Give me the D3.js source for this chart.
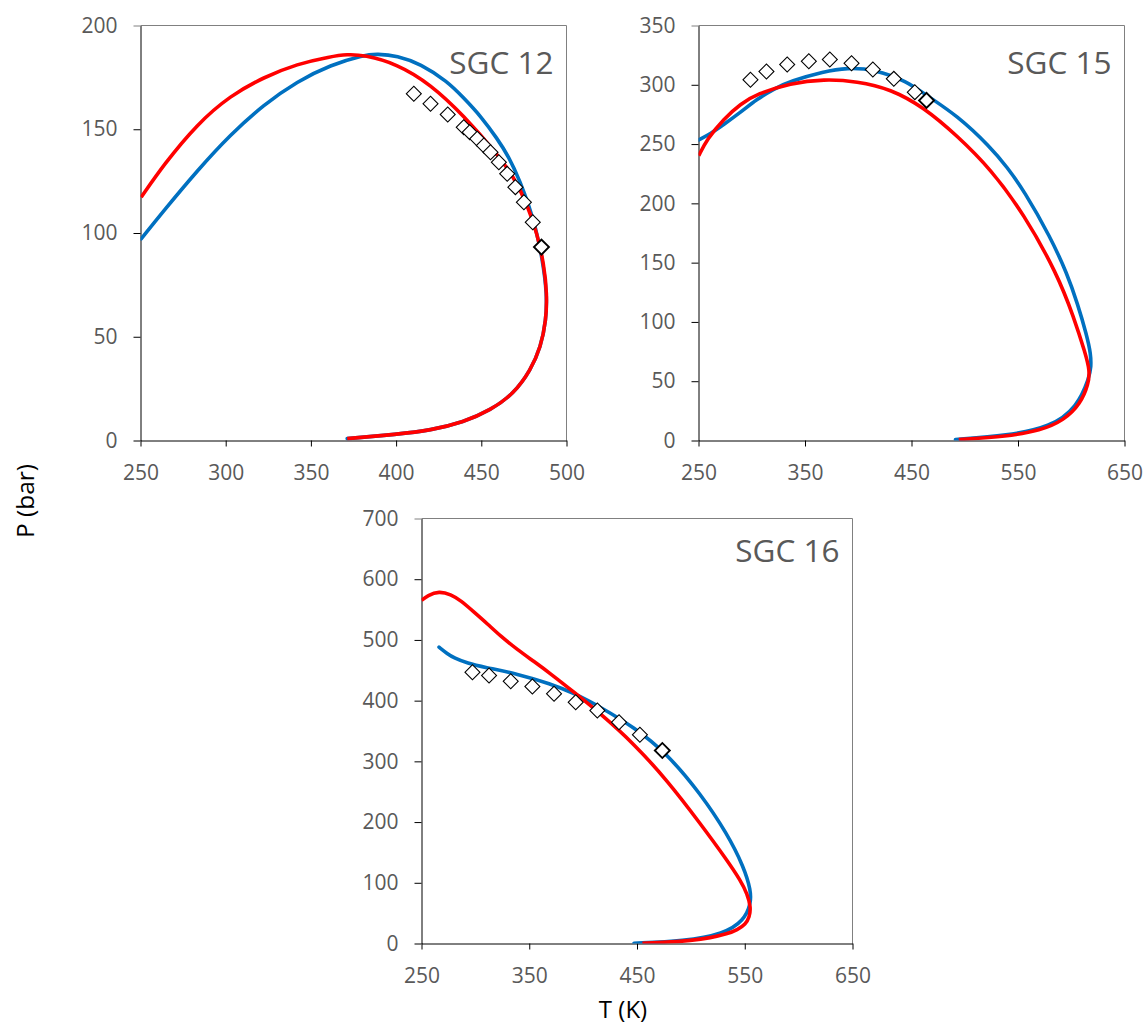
<!DOCTYPE html>
<html>
<head>
<meta charset="utf-8">
<script src="https://cdn.jsdelivr.net/npm/d3@7"></script>
<style>
  body { margin: 0; background: #fff; }
  svg { display: block; font-family: "Open Sans", sans-serif; }
</style>
</head>
<body>
<svg id="chart" width="1145" height="1026"></svg>
<script>
// Phase envelopes, [T (K), P (bar)]

// SGC 12
const sgc12Red = [[250.4,117.2],[263.7,133],[283.3,152.6],[302.8,166.3],[322.4,175.1],[342,181.5],[361.5,185],[371.3,186.1],[381.1,185.8],[400.6,181.5],[420.2,171.7],[439.7,156.6],[459.3,138.1],[469.1,126.9],[476.9,114],[482.8,99.6],[486.7,85.1],[488.6,70.7],[488,57.8],[484.9,45],[478.9,33.8],[469.1,22.6],[455.4,14.6],[439.7,8.9],[420.2,4.9],[400.6,3],[371.3,0.9]];
const sgc12Blue = [[250.4,97.2],[263.7,110.8],[283.3,130.1],[302.8,147.5],[322.4,161.9],[342,173.1],[361.5,181],[381.1,185.8],[388.9,186.3],[400.6,185.5],[414.3,181.5],[430,173.1],[439.7,165.1],[450,156],[459.3,145.5],[466,137],[473,124.5],[478,113],[481.8,102.8],[485.7,88.3],[488.6,70.7],[488,57.8],[484.9,45],[478.9,33.8],[469.1,22.6],[455.4,14.6],[439.7,8.9],[420.2,4.9],[400.6,3],[371.3,0.9]];
const sgc12Exp = [[410.4,167.1],[420.2,162.3],[430.3,157.1],[439.7,151],[443.2,148.6],[447.6,145.4],[451.5,142.2],[455.4,138.9],[460.3,134.1],[465.2,128.5],[470,122.1],[475,114.8],[480.2,105.2],[485.3,93.2]];

// SGC 15
const sgc15Red = [[250.3,240.3],[258.2,254.4],[273.8,271.3],[289.4,283.9],[305.1,292.4],[336.4,301.4],[367.7,304.8],[399,303],[430.3,296.5],[461.6,281],[492.9,257],[524.2,229.1],[555.5,191.1],[586.8,140.5],[602.4,104],[613.4,73],[617.4,58.9],[616.2,47.7],[608.7,30.9],[593,16.9],[571.1,8.4],[539.8,3.4],[494.4,0.8]];
const sgc15Blue = [[250.3,253.6],[261.3,258.7],[273.8,266.5],[289.4,276.7],[305.1,288],[320.7,296.5],[336.4,303.1],[367.7,311.2],[389.6,314.3],[414.6,313.2],[445.9,303],[464,291],[492.9,274.1],[524.2,247.4],[539.8,230.5],[555.5,210.8],[580.5,171.5],[596.2,140.5],[606,115.2],[614.5,89],[618.4,73],[618.6,61.8],[617,53.4],[605.6,28.1],[580.5,11.2],[539.8,4.2],[491.3,0.8]];
const sgc15Exp = [[298.8,304.2],[313.8,311.2],[333.3,317.1],[353.6,319.9],[373.3,321.3],[393.7,318.2],[413.7,312.9],[433.4,305],[453.1,293.8],[464.1,286.8]];

// SGC 16
const sgc16Red = [[250,565],[255.6,573.3],[266.3,580.4],[277.2,574.9],[286.4,565],[298.8,545.8],[311.2,526.5],[323.5,506],[339,484],[354.4,464.5],[369.9,444.2],[391.5,414],[416.3,378.3],[447.2,328.9],[478.1,268.5],[509,197.1],[533.8,136.7],[546.1,103.8],[552.3,81.8],[555.7,59.8],[554.3,43.3],[550.8,32],[543.1,22.5],[533.8,15.9],[518.3,9.3],[499.8,4.9],[478.1,2.2],[455,0.5]];
const sgc16Blue = [[266.3,488],[274.1,477],[280.2,470.4],[292.7,461.6],[308.1,455],[339,444.2],[369.9,427.7],[391.5,412.3],[416.3,389.2],[447.2,356.3],[478.1,312.4],[509,246.6],[533.8,180.7],[549.2,125.8],[555.7,87.3],[555.7,65.4],[549.2,37.9],[530.6,15.9],[493.5,3.8],[447.2,0.5]];
const sgc16Exp = [[297.3,446.8],[312.7,441.4],[332.8,432],[352.9,423.3],[373,411.3],[393.1,397.4],[413.2,383.8],[433.3,364.5],[452.7,343.7],[473.5,317.9]];

// Tick labels
const xTicks12 = [250, 300, 350, 400, 450, 500];
const yTicks12 = [0, 50, 100, 150, 200];
const xTicks15 = [250, 350, 450, 550, 650];
const yTicks15 = [0, 50, 100, 150, 200, 250, 300, 350];
const xTicks16 = [250, 350, 450, 550, 650];
const yTicks16 = [0, 100, 200, 300, 400, 500, 600, 700];

const titles = ["SGC 12", "SGC 15", "SGC 16"];
const xLabel = "T (K)";
const yLabel = "P (bar)";

const panels = [
  { title: titles[0], red: sgc12Red, blue: sgc12Blue, exp: sgc12Exp,
    xTicks: xTicks12, yTicks: yTicks12,
    box: { left: 140, top: 25, width: 426, height: 415 }, titleDy: 48 },
  { title: titles[1], red: sgc15Red, blue: sgc15Blue, exp: sgc15Exp,
    xTicks: xTicks15, yTicks: yTicks15,
    box: { left: 698, top: 25, width: 426, height: 415 }, titleDy: 48 },
  { title: titles[2], red: sgc16Red, blue: sgc16Blue, exp: sgc16Exp,
    xTicks: xTicks16, yTicks: yTicks16,
    box: { left: 421, top: 518, width: 431, height: 425 }, titleDy: 43 }
];

const svg = d3.select("#chart");
const defs = svg.append("defs");
const textColor = "#595959";

panels.forEach((p, i) => {
  const w = p.box.width, h = p.box.height;
  const g = svg.append("g")
    .attr("transform", `translate(${p.box.left + 0.5},${p.box.top + 0.5})`);

  const x = d3.scaleLinear().domain(d3.extent(p.xTicks)).range([0, w]);
  const y = d3.scaleLinear().domain(d3.extent(p.yTicks)).range([h, 0]);

  // top and right frame of the plot area
  g.append("path")
    .attr("d", `M0,0H${w}V${h}`)
    .attr("fill", "none")
    .attr("stroke", "#808080")
    .attr("stroke-width", 1);

  const yAxis = g.append("g")
    .call(d3.axisLeft(y).tickValues(p.yTicks).tickSize(7).tickPadding(16).tickSizeOuter(0));
  const xAxis = g.append("g")
    .attr("transform", `translate(0,${h})`)
    .call(d3.axisBottom(x).tickValues(p.xTicks).tickSize(6).tickPadding(19).tickSizeOuter(0));

  [xAxis, yAxis].forEach(ax => {
    ax.select(".domain").attr("stroke", "#000");
    ax.selectAll(".tick line").attr("stroke", "#000");
    ax.selectAll(".tick text")
      .attr("fill", textColor)
      .style("font-size", "21px")
      .style("font-family", "'Open Sans', sans-serif");
  });
  // top tick of the value axis takes the frame colour
  yAxis.selectAll(".tick line").filter(d => d === d3.max(p.yTicks)).attr("stroke", "#808080");

  const clipId = "plot-clip-" + i;
  defs.append("clipPath").attr("id", clipId)
    .append("rect").attr("x", 0).attr("y", -3).attr("width", w + 3).attr("height", h + 3);

  const line = d3.line()
    .x(d => x(d[0]))
    .y(d => y(d[1]))
    .curve(d3.curveBasis);

  const plot = g.append("g").attr("clip-path", `url(#${clipId})`);
  plot.append("path").datum(p.blue)
    .attr("d", line)
    .attr("fill", "none")
    .attr("stroke", "#0070C0")
    .attr("stroke-width", 3.6)
    .attr("stroke-linecap", "round")
    .attr("stroke-linejoin", "round");
  plot.append("path").datum(p.red)
    .attr("d", line)
    .attr("fill", "none")
    .attr("stroke", "#FF0000")
    .attr("stroke-width", 3.6)
    .attr("stroke-linecap", "butt")
    .attr("stroke-linejoin", "round");

  // experimental points as open diamonds
  const diamond = d3.symbol(d3.symbolSquare, 112);
  g.append("g").selectAll("path")
    .data(p.exp)
    .join("path")
    .attr("transform", d => `translate(${x(d[0])},${y(d[1])}) rotate(45)`)
    .attr("d", diamond)
    .attr("fill", "#fff")
    .attr("stroke", "#000")
    .attr("stroke-width", (d, j) => j === p.exp.length - 1 ? 1.9 : 1.1);

  g.append("text")
    .attr("x", w - 13)
    .attr("y", p.titleDy)
    .attr("text-anchor", "end")
    .attr("fill", textColor)
    .style("font-size", "31.5px")
    .text(p.title);
});

svg.append("text")
  .attr("transform", "translate(34,501) rotate(-90)")
  .attr("text-anchor", "middle")
  .attr("fill", "#000")
  .style("font-size", "24.5px")
  .text(yLabel);

svg.append("text")
  .attr("x", 623)
  .attr("y", 1018)
  .attr("text-anchor", "middle")
  .attr("fill", "#000")
  .style("font-size", "24px")
  .text(xLabel);
</script>
</body>
</html>
